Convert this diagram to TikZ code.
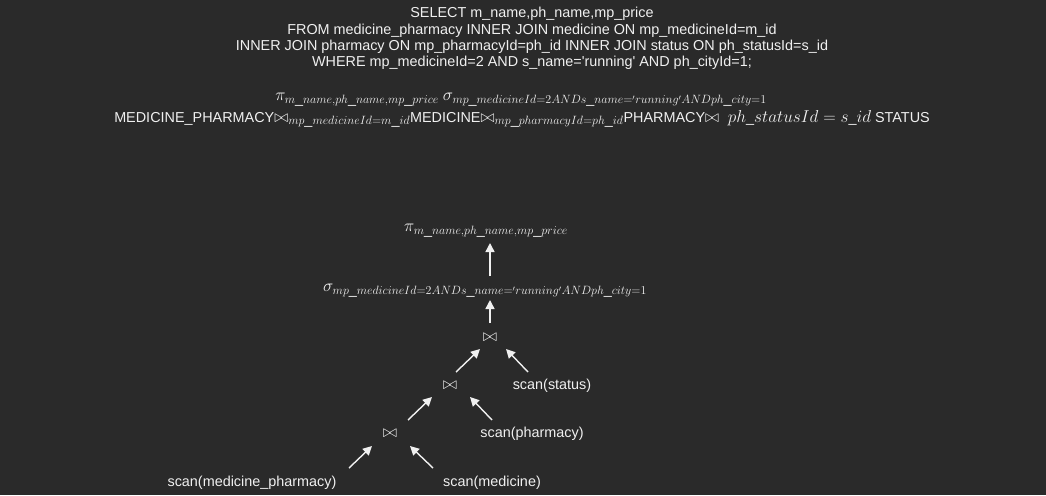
\documentclass[tikz,border=0pt]{standalone}
\usepackage[no-math]{fontspec}
\setmainfont{Liberation Sans}
\DeclareMathSizes{14.4}{17}{12}{8.5}
\usetikzlibrary{arrows.meta,calc}
\definecolor{bg}{HTML}{2A2A2A}
\definecolor{fg}{HTML}{F0F0F0}
\begin{document}
\begin{tikzpicture}[x=1pt,y=-1pt,
  txt/.style={inner sep=0pt,text=fg,font=\fontsize{14.4}{16.4}\selectfont},
  arr/.style={draw=fg,line width=1.4pt,-{Triangle[length=9pt,width=9pt]}}]
\fill[bg] (0,0) rectangle (1046,495);
\useasboundingbox (0,0) rectangle (1046,495);
% SQL
\node[txt,align=center] (sql) at (532,38.5) {SELECT m\_name,ph\_name,mp\_price\\
FROM medicine\_pharmacy INNER JOIN medicine ON mp\_medicineId=m\_id\\
INNER JOIN pharmacy ON mp\_pharmacyId=ph\_id INNER JOIN status ON ph\_statusId=s\_id\\
WHERE mp\_medicineId=2 AND s\_name=\textquotesingle running\textquotesingle{} AND ph\_cityId=1;};
% algebra
\node[txt] (a1) at (521,100) {$\pi_{m\_name,ph\_name,mp\_price}\ \sigma_{mp\_medicineId=2 AND s\_name='running' AND ph\_city=1}$};
\node[txt] (a2) at (522,119) {MEDICINE\_PHARMACY$\bowtie_{mp\_medicineId=m\_id}$MEDICINE$\bowtie_{mp\_pharmacyId=ph\_id}$PHARMACY$\bowtie\ ph\_statusId=s\_id\ $STATUS};
% tree
\node[txt] (pi) at (486,231) {$\pi_{m\_name,ph\_name,mp\_price}$};
\node[txt] (sigma) at (485,291) {$\sigma_{mp\_medicineId=2 AND s\_name='running' AND ph\_city=1}$};
\node[txt] (j1) at (490,337) {$\bowtie$};
\node[txt] (j2) at (450,385) {$\bowtie$};
\node[txt] (j3) at (390,433) {$\bowtie$};
\node[txt] (st) at (552,386) {scan(status)};
\node[txt] (ph) at (532,434) {scan(pharmacy)};
\node[txt] (mp) at (252,483) {scan(medicine\_pharmacy)};
\node[txt] (md) at (492,483) {scan(medicine)};
\draw[arr] ($(j1|-sigma)+(0,-15)$) -- ($(j1|-pi)+(0,12)$);
\draw[arr] ($(j1)+(0,-14)$) -- ($(j1|-sigma)+(0,9)$);
\draw[arr] ($(j2)+(6,-13)$) -- ($(j1)+(-10,12)$);
\draw[arr] ($(st)+(-24,-14)$) -- ($(j1)+(16,12)$);
\draw[arr] ($(j3)+(18,-13)$) -- ($(j2)+(-18,12)$);
\draw[arr] ($(ph)+(-40,-14)$) -- ($(j2)+(20,12)$);
\draw[arr] ($(mp)+(97,-15)$) -- ($(j3)+(-18,13)$);
\draw[arr] ($(md)+(-59,-15)$) -- ($(j3)+(20,13)$);
\end{tikzpicture}
\end{document}
